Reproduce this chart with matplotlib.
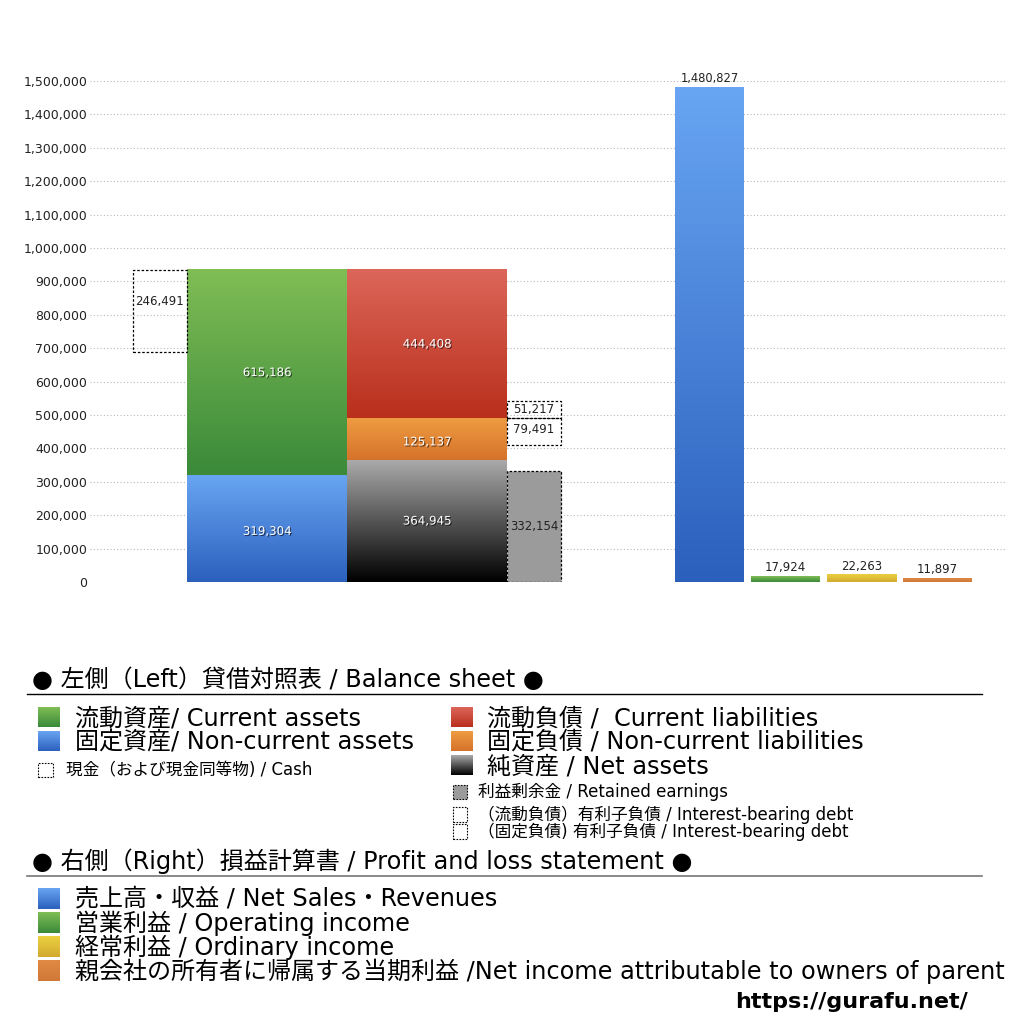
import numpy as np
import matplotlib
matplotlib.use('Agg')
import matplotlib.pyplot as plt
import matplotlib.patheffects as pe
from matplotlib.colors import LinearSegmentedColormap
from matplotlib.ticker import FuncFormatter

plt.rcParams['font.family'] = ['DejaVu Sans', 'Noto Sans CJK JP']

# balance sheet (left)
current_assets = 615186
noncurrent_assets = 319304
cash = 246491
current_liabilities = 444408
noncurrent_liabilities = 125137
net_assets = 364945
retained_earnings = 332154
debt_current = 51217
debt_noncurrent = 79491

# profit and loss (right)
pl_names = ['売上高・収益', '営業利益', '経常利益', '親会社株主に帰属する当期純利益']
pl_values = [1480827, 17924, 22263, 11897]

yticks = np.arange(0, 1500001, 100000)

GRAD = {
    'green': ('#80bd55', '#3a8a3a'),
    'blue': ('#68a5f2', '#2b60bd'),
    'red': ('#dc665a', '#b92f1b'),
    'orange': ('#ee9c42', '#d5722a'),
    'black': ('#aaaaaa', '#000000'),
    'yellow': ('#ecd040', '#d2aa30'),
    'orange2': ('#e08a45', '#d07838'),
}

MAIN_FS = 17.3
SMALL_FS = 12


def px(x):
    return x / 1024


def py(y):
    return 1 - y / 1024


def grad_bar(ax, x, w, bottom, height, key):
    top_c, bot_c = GRAD[key]
    cmap = LinearSegmentedColormap.from_list(key, [bot_c, top_c])
    g = np.linspace(0, 1, 256).reshape(-1, 1)
    ax.imshow(g, extent=[x - w / 2, x + w / 2, bottom, bottom + height],
              origin='lower', aspect='auto', cmap=cmap, zorder=2)


def dashed_box(ax, x, w, bottom, height, face='none'):
    ax.bar(x, height, w, bottom=bottom, facecolor=face, edgecolor='black',
           linestyle=(0, (2, 1.5)), linewidth=0.9, zorder=3)


def inner_label(ax, x, y, v):
    ax.text(x, y, '{:,}'.format(v), ha='center', va='center', fontsize=8.5,
            color='white', zorder=5,
            path_effects=[pe.withSimplePatchShadow(offset=(0.8, -0.8), shadow_rgbFace='black', alpha=0.6)])


def plain_label(ax, x, y, v, va='center'):
    ax.text(x, y, '{:,}'.format(v), ha='center', va=va, fontsize=8.5, color='#222222', zorder=5)


fig = plt.figure(figsize=(10.24, 10.24), dpi=100)
ax = fig.add_axes([px(90), py(582), px(915), py(81) - py(582)])

# layout (x in axis units)
cash_x, side_w = 7.0, 5.4
assets_x, liab_x, main_w = 17.7, 33.7, 16.0
side_x = 44.4
pl_x = [61.95, 69.55, 77.15, 84.75]
pl_w = 6.9
pl_keys = ['blue', 'green', 'yellow', 'orange2']

total_assets = current_assets + noncurrent_assets

# assets
grad_bar(ax, assets_x, main_w, 0, noncurrent_assets, 'blue')
grad_bar(ax, assets_x, main_w, noncurrent_assets, current_assets, 'green')
inner_label(ax, assets_x, noncurrent_assets / 2 - 8000, noncurrent_assets)
inner_label(ax, assets_x, noncurrent_assets + current_assets / 2, current_assets)

# cash box
dashed_box(ax, cash_x, side_w, total_assets - cash, cash)
plain_label(ax, cash_x, total_assets - cash / 2 + 30000, cash)

# liabilities + net assets
grad_bar(ax, liab_x, main_w, 0, net_assets, 'black')
grad_bar(ax, liab_x, main_w, net_assets, noncurrent_liabilities, 'orange')
grad_bar(ax, liab_x, main_w, net_assets + noncurrent_liabilities, current_liabilities, 'red')
inner_label(ax, liab_x, net_assets / 2, net_assets)
inner_label(ax, liab_x, net_assets + noncurrent_liabilities / 2 - 8000, noncurrent_liabilities)
inner_label(ax, liab_x, net_assets + noncurrent_liabilities + current_liabilities / 2,
            current_liabilities)

# retained earnings and interest-bearing debt
dashed_box(ax, side_x, side_w, 0, retained_earnings, face='#9b9b9b')
plain_label(ax, side_x, retained_earnings / 2, retained_earnings)
cl_bottom = net_assets + noncurrent_liabilities
dashed_box(ax, side_x, side_w, cl_bottom, debt_current)
plain_label(ax, side_x, cl_bottom + debt_current / 2, debt_current)
dashed_box(ax, side_x, side_w, cl_bottom - debt_noncurrent, debt_noncurrent)
plain_label(ax, side_x, cl_bottom - debt_noncurrent / 2 + 5000, debt_noncurrent)

# profit and loss
for x, v, k in zip(pl_x, pl_values, pl_keys):
    grad_bar(ax, x, pl_w, 0, v, k)
    ax.text(x, v + 6000, '{:,}'.format(v), ha='center', va='bottom',
            fontsize=8.3 if v > 1000000 else 8.5, color='#222222')

ax.set_xlim(0, 91.5)
ax.set_ylim(0, 1500000)
ax.set_yticks(yticks)
ax.yaxis.set_major_formatter(FuncFormatter(lambda v, p: '{:,}'.format(int(v))))
ax.tick_params(axis='y', length=0, labelsize=9, pad=2, labelcolor='#222222')
ax.tick_params(axis='x', length=0, labelbottom=False)
ax.grid(axis='y', color='#b8b8b8', linestyle=(0, (1, 2)), linewidth=0.8)
ax.set_axisbelow(True)
for s in ax.spines.values():
    s.set_visible(False)


# legend area
def legend_square(x0, y0, w, h, key=None, face=None):
    if key is not None:
        a = fig.add_axes([px(x0), py(y0 + h), px(w), px(h)])
        top_c, bot_c = GRAD[key]
        cmap = LinearSegmentedColormap.from_list(key, [bot_c, top_c])
        a.imshow(np.linspace(0, 1, 64).reshape(-1, 1), origin='lower', aspect='auto', cmap=cmap)
        a.axis('off')
    else:
        r = plt.Rectangle((px(x0), py(y0 + h)), px(w), px(h), transform=fig.transFigure,
                          facecolor=face if face else 'none', edgecolor='black',
                          linestyle=(0, (1.5, 1.2)), linewidth=0.8)
        fig.add_artist(r)


def ftext(x, y, s, size, **kw):
    fig.text(px(x), py(y), s, fontsize=size, va='center', ha='left', **kw)


ftext(32, 680, '● 左側（Left）貸借対照表 / Balance sheet ●', MAIN_FS)
fig.add_artist(plt.Line2D([px(27), px(982)], [py(694), py(694)], color='black', lw=1.0))

legend_square(38, 707, 22, 20, 'green')
ftext(75, 718, '流動資産/ Current assets', MAIN_FS)
legend_square(38, 731, 22, 20, 'blue')
ftext(75, 742, '固定資産/ Non-current assets', MAIN_FS)
legend_square(38, 763, 15, 14)
ftext(66, 770, '現金（および現金同等物) / Cash', SMALL_FS)

legend_square(451, 707, 22, 20, 'red')
ftext(487, 718, '流動負債 /  Current liabilities', MAIN_FS)
legend_square(451, 731, 22, 20, 'orange')
ftext(487, 742, '固定負債 / Non-current liabilities', MAIN_FS)
legend_square(451, 755, 22, 20, 'black')
ftext(487, 766, '純資産 / Net assets', MAIN_FS)
legend_square(453, 785, 14, 14, face='#9b9b9b')
ftext(478, 792, '利益剰余金 / Retained earnings', SMALL_FS)
legend_square(453, 807, 14, 15)
ftext(478, 815, '（流動負債）有利子負債 / Interest-bearing debt', SMALL_FS)
legend_square(453, 824, 14, 15)
ftext(478, 832, '（固定負債) 有利子負債 / Interest-bearing debt', SMALL_FS)

ftext(32, 861, '● 右側（Right）損益計算書 / Profit and loss statement ●', MAIN_FS)
fig.add_artist(plt.Line2D([px(27), px(982)], [py(876), py(876)], color='#777777', lw=1.2))

legend_square(38, 888, 22, 21, 'blue')
ftext(75, 899, '売上高・収益 / Net Sales・Revenues', MAIN_FS)
legend_square(38, 912, 22, 21, 'green')
ftext(75, 923, '営業利益 / Operating income', MAIN_FS)
legend_square(38, 936, 22, 21, 'yellow')
ftext(75, 947, '経常利益 / Ordinary income', MAIN_FS)
legend_square(38, 960, 22, 21, 'orange2')
ftext(75, 971, '親会社の所有者に帰属する当期利益 /Net income attributable to owners of parent', MAIN_FS)

ftext(735, 1002, 'https://gurafu.net/', 16, fontweight='bold')

fig.savefig('out.png', dpi=100)
